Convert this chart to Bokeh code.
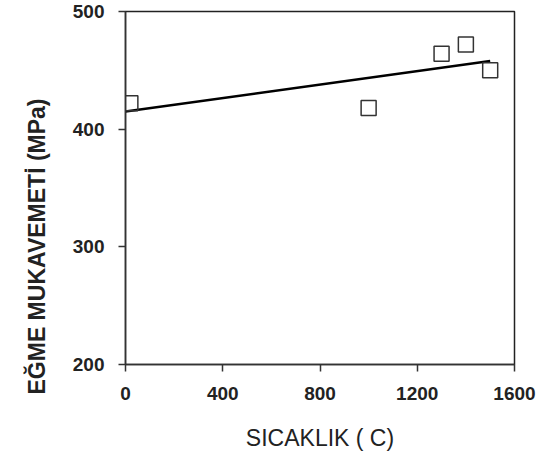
from bokeh.plotting import figure
from bokeh.embed import file_html
from bokeh.resources import INLINE
from bokeh.models import Range1d, FixedTicker, Title

# data
temp_c = [20, 1000, 1300, 1400, 1500]
strength_mpa = [422, 418, 464, 472, 450]
fit_x = [0, 1500]
fit_y = [415, 458]
x_ticks = [0, 400, 800, 1200, 1600]
y_ticks = [200, 300, 400, 500]

p = figure(width=539, height=457, output_backend="svg", toolbar_location=None,
           x_range=Range1d(0, 1600), y_range=Range1d(200, 500),
           min_border_left=125, min_border_right=25, min_border_top=11, min_border_bottom=93)
p.xgrid.visible = False
p.ygrid.visible = False
p.outline_line_color = "#222222"
p.outline_line_width = 1.5
p.background_fill_color = "white"
p.border_fill_color = "white"

p.line(fit_x, fit_y, line_color="black", line_width=2.5)
p.scatter(temp_c, strength_mpa, marker="square", size=15, fill_color=None,
          line_color="#333333", line_width=1.5)

for ax in (p.xaxis[0], p.yaxis[0]):
    ax.axis_line_color = "#333333"
    ax.axis_line_width = 1.5
    ax.major_tick_line_color = "#333333"
    ax.major_tick_line_width = 1.5
    ax.major_tick_in = 0
    ax.major_tick_out = 7
    ax.minor_tick_line_color = None
    ax.major_label_text_font = "Liberation Sans"
    ax.major_label_text_font_style = "bold"
    ax.major_label_text_font_size = "19px"
    ax.major_label_text_color = "#222222"
    ax.axis_label_text_font = "Liberation Sans"
    ax.axis_label_text_color = "#222222"

p.xaxis.ticker = FixedTicker(ticks=x_ticks)
p.yaxis.ticker = FixedTicker(ticks=y_ticks)
p.xaxis.axis_label = "SICAKLIK ( C)"
p.xaxis.axis_label_text_font_style = "normal"
p.xaxis.axis_label_text_font_size = "23px"
p.xaxis.major_label_standoff = 15
p.xaxis.axis_label_standoff = 22
p.yaxis.major_label_standoff = 14

ytitle = Title(text="EĞME MUKAVEMETİ (MPa)", align="left", offset=-30,
               standoff=40, text_font="Liberation Sans", text_font_style="bold",
               text_font_size="23px", text_color="#222222")
p.add_layout(ytitle, "left")

open("out.html", "w").write(file_html(p, INLINE))
